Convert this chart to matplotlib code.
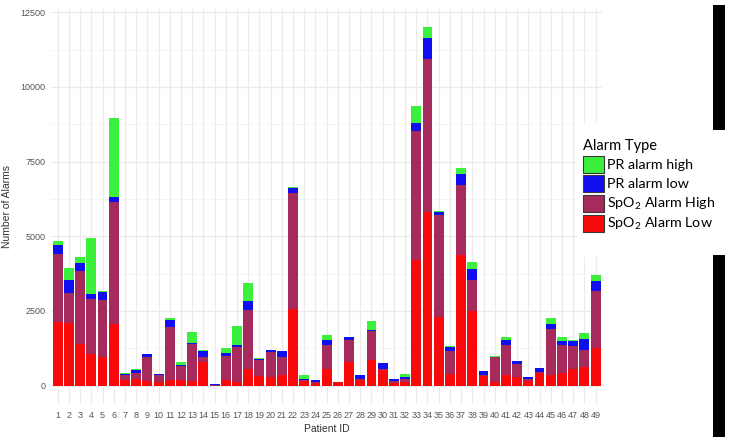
import matplotlib
matplotlib.use('Agg')
import matplotlib.pyplot as plt
from matplotlib.patches import Patch, Rectangle
from matplotlib.ticker import MultipleLocator

patients = list(range(1, 50))

spo2_low = [2120, 2110, 1385, 1050, 950, 2055, 190, 215, 160, 135,
            190, 190, 160, 785, 5, 190, 115, 560, 325, 280,
            360, 2570, 155, 80, 550, 110, 800, 190, 860, 540,
            80, 135, 4200, 5820, 2290, 380, 4375, 2510, 335, 135,
            360, 300, 155, 415, 360, 435, 550, 635, 1250]
spo2_high = [2280, 1000, 2465, 1850, 1920, 4085, 160, 220, 810, 215,
             1785, 470, 1225, 165, 5, 815, 1190, 1975, 535, 840,
             610, 3870, 35, 35, 815, 0, 725, 25, 980, 20,
             90, 100, 4330, 5110, 3425, 790, 2345, 1030, 25, 810,
             1005, 425, 60, 35, 1530, 930, 790, 560, 1930]
pr_low = [310, 425, 270, 160, 260, 190, 50, 100, 80, 50,
          225, 35, 55, 210, 50, 80, 55, 310, 40, 80,
          180, 165, 25, 75, 170, 0, 90, 135, 25, 190,
          55, 45, 270, 690, 90, 125, 370, 360, 145, 30,
          170, 110, 65, 135, 180, 145, 170, 360, 335]
pr_high = [140, 410, 180, 1875, 30, 2620, 25, 10, 10, 0,
           75, 110, 370, 35, 0, 180, 635, 580, 30, 0,
           10, 55, 145, 0, 145, 0, 10, 0, 310, 0,
           0, 100, 570, 390, 45, 45, 190, 255, 0, 30,
           90, 0, 0, 0, 190, 115, 10, 220, 190]

series_names = ['SpO$_2$ Alarm Low', 'SpO$_2$ Alarm High', 'PR alarm low', 'PR alarm high']
series_colors = ['#F80A0A', '#A62A5C', '#0E0EF0', '#3AF03A']

plt.rcParams['mathtext.default'] = 'regular'

fig = plt.figure(figsize=(7.3, 4.4), dpi=100)
ax = fig.add_axes([51 / 730, 1 - 403.6 / 440, (602.3 - 51) / 730, (403.6 - 8.7) / 440])

bottom = [0] * len(patients)
for vals, name, col in zip([spo2_low, spo2_high, pr_low, pr_high], series_names, series_colors):
    ax.bar(patients, vals, width=0.88, bottom=bottom, color=col, label=name, zorder=3)
    bottom = [b + v for b, v in zip(bottom, vals)]

ax.set_xlim(0.4, 49.6)
ax.set_ylim(-600, 12616)
ax.set_xticks(patients)
ax.set_xticklabels([str(p) for p in patients])
ax.yaxis.set_major_locator(MultipleLocator(2500))
ax.yaxis.set_minor_locator(MultipleLocator(1250))
ax.grid(True, which='major', color='#EBEBEB', linewidth=0.9, zorder=0)
ax.grid(True, which='minor', axis='y', color='#F3F3F3', linewidth=0.6, zorder=0)
for s in ax.spines.values():
    s.set_visible(False)
ax.tick_params(which='both', length=0)
ax.tick_params(axis='y', pad=4)
ax.tick_params(axis='x', pad=5)
for lab in ax.get_xticklabels() + ax.get_yticklabels():
    lab.set_fontfamily('Liberation Sans')
    lab.set_fontsize(6.5)
    lab.set_color('#555555')

ax.set_xlabel('Patient ID', fontsize=7.5, family='Liberation Sans', color='#333333', labelpad=3)
ax.set_ylabel('Number of Alarms', fontsize=7.5, family='Liberation Sans', color='#333333', labelpad=6)

# white box behind the legend, then the legend itself
fig.patches.append(Rectangle((577 / 730, 1 - 257 / 440), (712 - 577) / 730, (257 - 123) / 440,
                             transform=fig.transFigure, facecolor='white', edgecolor='none', zorder=2))
handles = [Patch(facecolor=c, edgecolor='#3A3A3A', linewidth=0.8) for c in series_colors[::-1]]
fig.legend(handles, series_names[::-1], title='Alarm Type', loc='upper left',
           bbox_to_anchor=(583 / 730, 1 - 139 / 440), frameon=False,
           prop={'family': 'Lato', 'size': 10.3}, title_fontproperties={'family': 'Lato', 'size': 10.5},
           alignment='left', handlelength=1.45, handleheight=1.45, labelspacing=0.18,
           handletextpad=0.25, borderpad=0, borderaxespad=0)

# black bars at the right edge of the picture
fig.patches.append(Rectangle((713 / 730, 1 - 130 / 440), 12 / 730, 125 / 440,
                             transform=fig.transFigure, facecolor='black', edgecolor='none', zorder=2))
fig.patches.append(Rectangle((713 / 730, 1 - 437 / 440), 12 / 730, 182 / 440,
                             transform=fig.transFigure, facecolor='black', edgecolor='none', zorder=2))

fig.savefig('out.png', dpi=100)
